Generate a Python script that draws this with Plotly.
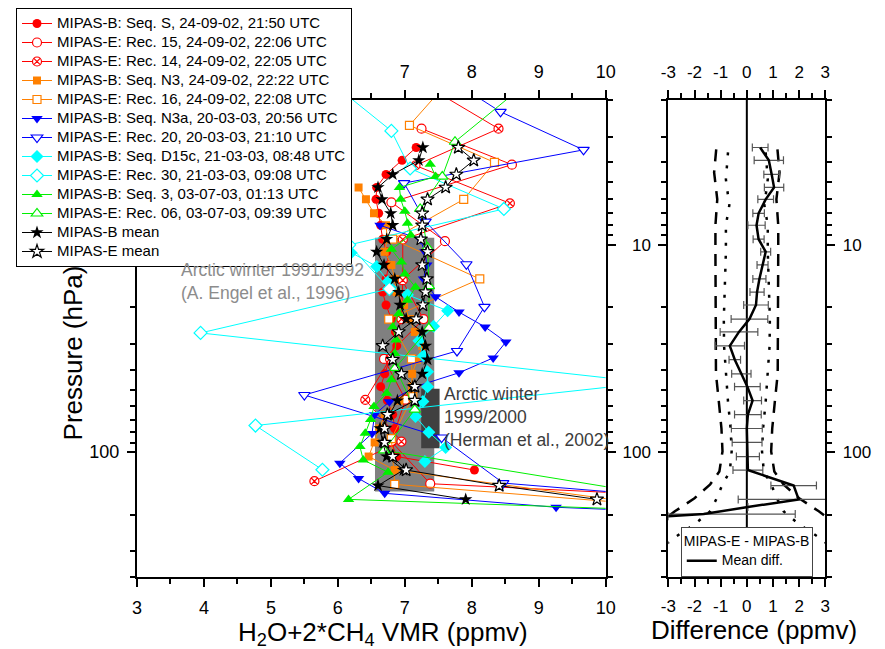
import math
import plotly.graph_objects as go

# ---------------- data ----------------
# MIPAS-B common pressure grid (hPa)
P_B = [3.39, 3.91, 4.57, 5.28, 6.03, 7.04, 8.04, 9.39, 10.8, 12.5, 14.6, 16.9, 19.5, 22.8,
       26.3, 30.7, 35.8, 41.9, 48.3, 56.4, 65.9, 76.9, 89.8, 105, 122, 145, 169]

seqS_p = [3.39, 3.91, 4.57, 5.28, 6.03, 7.04, 8.04, 9.39, 10.8, 12.5, 14.6, 16.9, 19.5, 22.8,
          26.3, 30.7, 35.8, 41.9, 48.3, 56.4, 65.9, 76.9, 89.8, 105, 122]
seqS_x = [7.17, 6.96, 6.72, 6.58, 6.57, 6.61, 6.64, 6.67, 6.73, 6.76, 6.72, 6.67, 6.72, 6.80,
          6.86, 6.88, 6.77, 6.70, 6.64, 6.74, 6.82, 6.85, 6.80, 6.88, 8.04]

rec15_p = [2.75, 4.1, 6.23, 9.6, 14.8, 22.8, 35.5, 55.8, 88.9, 142, 215]
rec15_x = [7.25, 8.60, 6.80, 7.60, 6.96, 7.28, 6.69, 7.01, 6.80, 7.38, 18.8]

rec14_p = [1.55, 2.75, 4.14, 6.3, 9.42, 14.8, 22.8, 35.5, 55.9, 88.9, 138]
rec14_x = [7.10, 8.40, 7.16, 8.57, 6.97, 6.97, 6.95, 6.78, 6.41, 6.95, 5.65]

seqN3_p = [5.28, 6.03, 7.04, 8.04, 9.39, 10.8, 12.5, 14.6, 16.9, 19.5, 22.8, 26.3, 30.7,
           35.8, 41.9, 48.3, 56.4, 65.9, 76.9, 89.8, 105, 122, 193]
seqN3_x = [6.31, 6.42, 6.54, 6.72, 6.74, 6.70, 6.80, 6.85, 6.88, 6.99, 7.08, 7.15, 7.26,
           7.18, 7.11, 7.11, 6.92, 6.70, 6.62, 6.55, 6.46, 6.85, 11.4]

rec16_p = [1.55, 2.65, 4.0, 6.03, 9.39, 14.6, 22.8, 35.5, 54.0, 86.0, 143, 215]
rec16_x = [7.71, 7.07, 8.34, 7.88, 6.82, 8.12, 6.76, 7.10, 7.12, 6.80, 6.85, 13.7]

seqN3a_p = [8.04, 9.39, 10.8, 12.5, 14.6, 17.8, 21.1, 24.9, 29.4, 35.1, 41.4, 48.3, 57.1,
            65.9, 81.3, 113, 134, 158, 184.5, 215]
seqN3a_x = [6.63, 7.23, 7.30, 7.33, 7.28, 7.46, 7.81, 8.20, 8.51, 8.32, 7.81, 7.16, 6.77,
            6.55, 6.51, 6.03, 6.31, 6.70, 9.26, 14.4]

rec20_p = [1.55, 2.28, 3.48, 5.03, 7.72, 12.4, 19.9, 32.5, 53.0, 85.0, 141, 215]
rec20_x = [7.62, 8.43, 9.67, 6.99, 7.31, 7.92, 8.19, 7.78, 5.50, 7.55, 8.47, 15.4]

seqD15c_p = [10.9, 12.7, 15.0, 17.4, 20.8, 24.7, 29.0, 34.3, 40.9, 48.3, 57.0, 67.3, 80.2, 94.9, 111]
seqD15c_x = [6.20, 6.58, 6.75, 7.04, 7.64, 7.43, 7.21, 7.28, 7.34, 7.34, 7.27, 7.16, 7.36, 7.61, 7.30]

rec30_p = [1.55, 2.82, 4.28, 6.71, 10.0, 16.3, 26.6, 46.2, 74.4, 121.6]
rec30_x = [5.80, 6.80, 7.08, 8.48, 6.17, 6.77, 3.95, 10.66, 4.77, 5.77]

seq3_p = [4.08, 4.68, 5.28, 6.03, 6.89, 7.86, 8.98, 10.5, 12.1, 13.8, 16.0, 18.5, 21.5, 24.9,
          28.8, 33.4, 38.7, 44.7, 52.0, 60.3, 69.6, 81.1, 94.0, 109, 125, 169, 195]
seq3_x = [7.38, 7.46, 6.92, 6.94, 7.00, 7.04, 7.09, 6.80, 6.95, 7.00, 7.16, 7.04, 6.91, 6.82,
          6.87, 6.85, 6.87, 6.80, 6.73, 6.54, 6.49, 6.41, 6.33, 6.38, 6.75, 6.16, 11.7]

rec06_p = [1.55, 3.18, 4.68, 6.71, 10.3, 15.8, 25.2, 39.2, 62.3, 98.1, 154]
rec06_x = [8.93, 7.75, 7.56, 7.23, 7.34, 7.36, 7.36, 6.86, 7.15, 6.69, 10.4]

meanB_x = [7.27, 7.21, 6.82, 6.60, 6.66, 6.79, 6.82, 6.73, 6.58, 6.69, 6.85, 6.91, 6.93, 7.02,
           7.26, 7.31, 7.34, 7.26, 7.12, 6.89, 6.77, 6.63, 6.67, 6.73, 6.98, 6.60, 7.91]
meanE_x = [7.80, 8.03, 7.77, 7.61, 7.34, 7.26, 7.26, 7.24, 7.34, 7.26, 7.33, 7.31, 7.27, 7.17,
           6.91, 6.67, 6.82, 6.95, 7.15, 7.15, 6.74, 6.70, 6.70, 6.82, 7.02, 8.41, 9.87]

# climatology boxes
engel_x = [6.555, 7.44]
engel_p = [9.25, 155]
herman_x = [7.245, 7.52]
herman_p = [49.5, 95.7]

# right panel: mean difference MIPAS-E - MIPAS-B
md_p = P_B + [184, 199, 204, 206]
md_x = [0.51, 0.84, 0.95, 1.04, 0.72, 0.45, 0.37, 0.45, 0.72, 0.60, 0.48, 0.39, 0.35, 0.10,
        -0.30, -0.65, -0.46, -0.21, 0.02, 0.22, 0.04, 0.00, 0.01, 0.04, 0.04, 1.79, 1.98,
        0.04, -1.65, -3.0, -3.6]
md_err = [0.30, 0.56, 0.30, 0.37, 0.30, 0.22, 0.33, 0.21, 0.19, 0.21, 0.25, 0.27, 0.47, 0.70,
          0.72, 0.56, 0.22, 0.37, 0.49, 0.34, 0.51, 0.59, 0.57, 0.44, 0.57, 0.87, 2.31,
          None, 3.50, None, None]

dash_p = [3.46, 4.47, 6.03, 8.04, 10.8, 15.6, 22.8, 30.7, 41.9, 57.0, 76.9, 99.1, 124, 143, 167, 193, 223]
dash_half = [1.17, 1.25, 1.13, 1.20, 1.20, 1.20, 1.20, 1.20, 1.18, 1.07, 0.97, 0.93, 1.05, 1.40, 2.00, 2.75, 3.40]
dot_p = [3.58, 4.83, 6.44, 8.04, 10.8, 15.6, 22.8, 30.7, 41.9, 57.0, 76.9, 99.1, 124, 143, 167, 193, 223, 260, 300]
dot_half = [0.72, 0.80, 0.67, 0.80, 0.80, 0.83, 0.88, 0.87, 0.80, 0.72, 0.62, 0.58, 0.65, 0.93, 1.15, 1.40, 2.00, 2.80, 3.40]

x_ticks_left = [3, 4, 5, 6, 7, 8, 9, 10]
x_ticks_right = [-3, -2, -1, 0, 1, 2, 3]
p_ticks = [10, 100]

# ---------------- page geometry ----------------
# the page body has an 8px margin, so the figure is drawn 8px in from the window corner
W, H, OFF = 877, 641, 8


def fx(X):
    return (X - OFF) / W


def fy(Y):
    return 1 - (Y - OFF) / H


FONT = "Liberation Sans, Arial, sans-serif"
RED, ORANGE, BLUE, CYAN, GREEN, BLACK = "#FF0000", "#FF8000", "#0000FF", "#00FFFF", "#00F000", "#000000"

series = [
    ("MIPAS-B: Seq. S, 24-09-02, 21:50 UTC", seqS_x, seqS_p, RED, "circle", True, 9),
    ("MIPAS-E: Rec. 15, 24-09-02, 22:06 UTC", rec15_x, rec15_p, RED, "circle", False, 9),
    ("MIPAS-E: Rec. 14, 24-09-02, 22:05 UTC", rec14_x, rec14_p, RED, "circle-x", False, 9),
    ("MIPAS-B: Seq. N3, 24-09-02, 22:22 UTC", seqN3_x, seqN3_p, ORANGE, "square", True, 8),
    ("MIPAS-E: Rec. 16, 24-09-02, 22:08 UTC", rec16_x, rec16_p, ORANGE, "square", False, 8),
    ("MIPAS-B: Seq. N3a, 20-03-03, 20:56 UTC", seqN3a_x, seqN3a_p, BLUE, "triangle-down", True, 10),
    ("MIPAS-E: Rec. 20, 20-03-03, 21:10 UTC", rec20_x, rec20_p, BLUE, "triangle-down", False, 10),
    ("MIPAS-B: Seq. D15c, 21-03-03, 08:48 UTC", seqD15c_x, seqD15c_p, CYAN, "diamond", True, 10),
    ("MIPAS-E: Rec. 30, 21-03-03, 09:08 UTC", rec30_x, rec30_p, CYAN, "diamond", False, 10),
    ("MIPAS-B: Seq. 3, 03-07-03, 01:13 UTC", seq3_x, seq3_p, GREEN, "triangle-up", True, 10),
    ("MIPAS-E: Rec. 06, 03-07-03, 09:39 UTC", rec06_x, rec06_p, GREEN, "triangle-up", False, 10),
    ("MIPAS-B mean", meanB_x, P_B, BLACK, "star", True, 10),
    ("MIPAS-E mean", meanE_x, P_B, BLACK, "star", False, 10),
]

fig = go.Figure()

for name, xs, ps, col, sym, filled, size in series:
    marker = dict(symbol=sym, size=size,
                  color=col if filled else "white",
                  line=dict(color=col, width=0 if filled else 1.2))
    fig.add_trace(go.Scatter(
        x=xs, y=ps, mode="lines+markers", name=f'<span style="font-size:15px">{name}</span>',
        line=dict(color=col, width=1), marker=marker, xaxis="x", yaxis="y",
        legend="legend"))

# dummy traces so the mirror axes exist
fig.add_trace(go.Scatter(x=[None], y=[None], xaxis="x3", yaxis="y3", showlegend=False, hoverinfo="skip"))
fig.add_trace(go.Scatter(x=[None], y=[None], xaxis="x4", yaxis="y4", showlegend=False, hoverinfo="skip"))

# right panel envelopes
for sgn in (1, -1):
    fig.add_trace(go.Scatter(x=[sgn * v for v in dash_half], y=dash_p, mode="lines",
                             line=dict(color="black", width=2.5, dash="12px,9px"),
                             xaxis="x2", yaxis="y2", showlegend=False, hoverinfo="skip"))
    fig.add_trace(go.Scatter(x=[sgn * v for v in dot_half], y=dot_p, mode="lines",
                             line=dict(color="black", width=2.5, dash="3px,10px"),
                             xaxis="x2", yaxis="y2", showlegend=False, hoverinfo="skip"))

# error bars
fig.add_trace(go.Scatter(x=md_x, y=md_p, mode="markers",
                         marker=dict(size=2, color="rgba(0,0,0,0)"),
                         error_x=dict(type="data", array=md_err, symmetric=True,
                                      color="#555555", thickness=1.2, width=4),
                         xaxis="x2", yaxis="y2", showlegend=False, hoverinfo="skip"))
# mean difference
fig.add_trace(go.Scatter(x=md_x, y=md_p, mode="lines",
                         name='<span style="font-size:14px">Mean diff.</span>',
                         line=dict(color="black", width=2.5),
                         xaxis="x2", yaxis="y2", legend="legend2"))

# ---------------- axes ----------------
L_DOM = [fx(131.5), fx(610)]
R_DOM = [fx(674), fx(834.3)]
Y_DOM = [fy(576.7), fy(98.3)]
Y_RANGE = [math.log10(400), math.log10(2)]
p_minor = [2, 3, 4, 5, 6, 7, 8, 9, 20, 30, 40, 50, 60, 70, 80, 90, 200, 300, 400]


def xax(rng, ticks, minor, side, dom, anchor, size, overlay=None):
    d = dict(domain=dom, anchor=anchor, range=rng, tickvals=ticks,
             ticktext=[str(t) for t in ticks], side=side,
             showline=True, linecolor="black", linewidth=2, mirror=False,
             ticks="outside", ticklen=8, tickwidth=2, tickcolor="black",
             showgrid=False, zeroline=False, ticklabelstandoff=5,
             tickfont=dict(family=FONT, size=size, color="black"),
             minor=dict(tickvals=minor, ticks="outside", ticklen=5, tickwidth=1.5,
                        tickcolor="black", showgrid=False))
    if overlay:
        d["overlaying"] = overlay
    return d


def yax(side, dom, anchor, size, labels=True, overlay=None):
    d = dict(domain=dom, anchor=anchor, type="log", range=Y_RANGE, side=side,
             tickvals=p_ticks, ticktext=[str(t) for t in p_ticks], showticklabels=labels,
             showline=True, linecolor="black", linewidth=2,
             ticks="outside", ticklen=8, tickwidth=2, tickcolor="black",
             showgrid=False, zeroline=False, ticklabelstandoff=4,
             tickfont=dict(family=FONT, size=size, color="black"),
             minor=dict(tickvals=p_minor, ticks="outside", ticklen=5, tickwidth=1.5,
                        tickcolor="black", showgrid=False))
    if overlay:
        d["overlaying"] = overlay
    return d


left_minor = [3.5, 4.5, 5.5, 6.5, 7.5, 8.5, 9.5]
right_minor = [-2.5, -1.5, -0.5, 0.5, 1.5, 2.5]

fig.update_layout(
    width=W, height=H,
    margin=dict(l=0, r=0, t=0, b=0),
    paper_bgcolor="white", plot_bgcolor="white",
    font=dict(family=FONT, color="black"),
    xaxis=xax([3, 10], x_ticks_left, left_minor, "bottom", L_DOM, "y", 18),
    xaxis3=xax([3, 10], x_ticks_left, left_minor, "top", L_DOM, "y", 18, overlay="x"),
    yaxis=yax("left", Y_DOM, "x", 18),
    yaxis3=yax("right", Y_DOM, "x", 18, labels=False, overlay="y"),
    xaxis2=xax([-3, 3], x_ticks_right, right_minor, "bottom", R_DOM, "y2", 17),
    xaxis4=xax([-3, 3], x_ticks_right, right_minor, "top", R_DOM, "y2", 17, overlay="x2"),
    yaxis2=yax("left", Y_DOM, "x2", 17),
    yaxis4=yax("right", Y_DOM, "x2", 17, overlay="y2"),
    legend=dict(x=fx(8), y=fy(5.5), xanchor="left", yanchor="top",
                bgcolor="white", bordercolor="black", borderwidth=1,
                font=dict(family=FONT, size=12, color="black"), tracegroupgap=0),
    legend2=dict(x=fx(686.7), y=fy(526.7), xanchor="left", yanchor="top",
                 bgcolor="white", bordercolor="#444444", borderwidth=1,
                 font=dict(family=FONT, size=12, color="black"),
                 title=dict(text="MIPAS-E - MIPAS-B", font=dict(family=FONT, size=14))),
    showlegend=True,
)

fig.add_shape(type="rect", xref="x", yref="y", x0=engel_x[0], x1=engel_x[1],
              y0=engel_p[0], y1=engel_p[1], fillcolor="#808080", line=dict(width=0), layer="below")
fig.add_shape(type="rect", xref="x", yref="y", x0=herman_x[0], x1=herman_x[1],
              y0=herman_p[0], y1=herman_p[1], fillcolor="#404040", line=dict(width=0), layer="below")
fig.add_shape(type="line", xref="x2", yref="y2 domain", x0=0, x1=0, y0=0, y1=1,
              line=dict(color="black", width=2), layer="below")

fig.add_annotation(text="Arctic winter 1991/1992<br>(A. Engel et al., 1996)", xref="x", yref="y",
                   x=3.635, y=math.log10(15.0), xanchor="left", yanchor="middle", align="left",
                   showarrow=False, font=dict(family=FONT, size=17.5, color="#8c8c8c"))
fig.add_annotation(text="Arctic winter<br>1999/2000<br>(Herman et al., 2002)", xref="x", yref="y",
                   x=7.56, y=math.log10(67.8), xanchor="left", yanchor="middle", align="left",
                   showarrow=False, font=dict(family=FONT, size=17.5, color="#3c3c3c"))

fig.add_annotation(text="Pressure (hPa)", xref="paper", yref="paper", x=fx(66), y=fy(351.7),
                   textangle=-90, showarrow=False, xanchor="center", yanchor="middle",
                   font=dict(family=FONT, size=26, color="black"))
fig.add_annotation(text="H<sub>2</sub>O+2*CH<sub>4</sub> VMR (ppmv)", xref="paper", yref="paper",
                   x=fx(383), y=fy(633), showarrow=False, xanchor="center", yanchor="middle",
                   font=dict(family=FONT, size=26, color="black"))
fig.add_annotation(text="Difference (ppmv)", xref="paper", yref="paper",
                   x=fx(761), y=fy(630), showarrow=False, xanchor="center", yanchor="middle",
                   font=dict(family=FONT, size=26, color="black"))

fig.write_html("out.html")
